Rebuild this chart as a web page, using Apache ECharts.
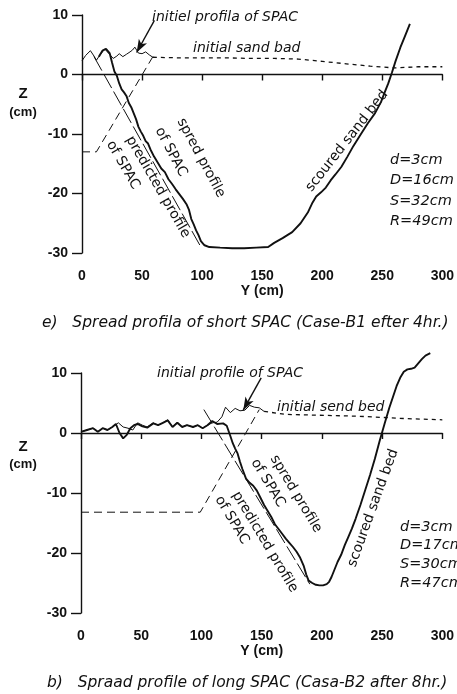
<!DOCTYPE html>
<html>
<head>
<meta charset="utf-8">
<script src="https://cdn.jsdelivr.net/npm/echarts@6/dist/echarts.min.js"></script>
<style>
  html, body { margin: 0; padding: 0; background: #fff; }
  #chart { width: 457px; height: 694px; }
</style>
</head>
<body>
<div id="chart"></div>
<script>
// ---- axis ticks ----
const xTicks = [0, 50, 100, 150, 200, 250, 300];
const zTicks = [-30, -20, -10, 0, 10];

// ---- panel e) short SPAC, Case-B1 after 4hr ----
const p1InitX = [0, 3, 7, 10, 12, 15, 19, 22, 26, 29, 31, 34, 37, 40, 42, 44, 47, 50, 53, 56, 59];
const p1InitZ = [2.3, 3.2, 4.0, 3.1, 2.4, 3.3, 4.3, 3.6, 2.7, 3.1, 3.5, 3.0, 3.4, 3.8, 4.1, 4.6, 3.6, 3.5, 3.8, 3.3, 2.9];
const p1BedX = [59, 80, 100, 120, 140, 160, 180, 200, 220, 240, 260, 280, 300];
const p1BedZ = [2.9, 2.8, 2.8, 2.8, 2.7, 2.7, 2.6, 2.2, 1.8, 1.4, 1.1, 1.3, 1.3];
const p1ScourX = [14, 17, 20, 23, 25, 27, 29, 31, 33, 35, 37, 39, 41, 43, 45, 47, 49, 51, 53, 55, 57, 60, 63, 66, 69, 72, 75, 78, 81, 84, 87, 89, 91, 93, 95, 97, 99, 102, 106, 115, 125, 135, 145, 155, 160, 167, 175, 182, 188, 192, 195, 199, 203, 207, 211, 216, 221, 226, 232, 238, 244, 249, 252, 255, 258, 261, 265, 269, 273];
const p1ScourZ = [3.0, 4.0, 4.3, 3.6, 2.0, 0.5, -0.2, -1.5, -2.5, -3.0, -3.6, -4.8, -5.5, -6.5, -7.5, -8.8, -9.6, -10.3, -11.2, -11.6, -12.6, -13.8, -14.8, -15.8, -16.4, -17.6, -18.4, -19.3, -20.1, -20.9, -21.8, -22.7, -24.3, -25.2, -26.2, -27.0, -28.0, -28.7, -29.0, -29.1, -29.2, -29.2, -29.1, -29.0, -28.3, -27.5, -26.5, -25.0, -23.2, -21.5, -20.5, -19.8, -19.0, -17.8, -16.8, -15.5, -13.8, -12.0, -10.1, -8.2, -6.5, -4.6, -3.0, -1.5, 0.3, 2.2, 4.5, 6.5, 8.5];
const p1PredX = [10, 99];
const p1PredZ = [3.0, -29.0];
const p1SpacX = [0, 12, 59];
const p1SpacZ = [-13.0, -13.0, 3.0];
const p1Params = ['d=3cm', 'D=16cm', 'S=32cm', 'R=49cm'];

// ---- panel b) long SPAC, Casa-B2 after 8hr ----
const p2InitX = [0, 5, 10, 14, 18, 22, 26, 31, 35, 39, 43, 47, 51, 55, 60, 64, 68, 72, 76, 80, 84, 88, 93, 97, 101, 105, 109, 113, 117, 120, 124, 128, 132, 136, 140, 144, 148, 152];
const p2InitZ = [0.2, 0.5, 0.8, 0.2, 0.8, 0.5, 1.0, 1.7, 1.0, 0.8, 0.5, 1.7, 1.3, 1.0, 1.7, 1.3, 1.7, 2.2, 1.0, 1.8, 1.0, 1.3, 1.0, 1.3, 0.8, 1.3, 1.7, 1.8, 2.7, 4.3, 3.4, 4.1, 3.7, 3.8, 4.6, 4.3, 4.2, 3.6];
const p2BedX = [152, 170, 190, 210, 230, 250, 270, 300];
const p2BedZ = [3.6, 3.1, 3.0, 2.9, 2.8, 2.6, 2.4, 2.2];
const p2ScourX = [0, 5, 10, 14, 18, 22, 26, 29, 32, 35, 38, 41, 44, 47, 51, 55, 60, 64, 68, 72, 76, 80, 84, 88, 93, 97, 101, 105, 109, 113, 118, 121, 124, 126, 128, 130, 132, 134, 137, 140, 143, 146, 149, 152, 155, 158, 161, 164, 167, 170, 173, 176, 179, 182, 185, 187, 189, 192, 195, 198, 201, 204, 206, 208, 210, 213, 216, 219, 222, 225, 228, 232, 236, 240, 244, 248, 252, 256, 259, 262, 265, 268, 271, 274, 277, 280, 283, 286, 290];
const p2ScourZ = [0.2, 0.5, 0.8, 0.2, 0.8, 0.5, 1.0, 1.5, 0.0, -0.9, -0.3, 0.8, 1.3, 1.5, 1.1, 0.9, 1.6, 1.3, 1.7, 2.1, 1.0, 1.7, 1.0, 1.3, 1.0, 1.3, 0.8, 1.3, 2.0, 1.5, 1.6, 1.2, -0.5, -1.7, -2.6, -3.4, -4.8, -6.0, -7.6, -8.3, -8.8, -9.6, -10.8, -12.0, -13.0, -14.0, -15.2, -16.0, -16.8, -17.6, -18.3, -19.0, -19.8, -20.8, -22.2, -23.6, -24.6, -25.0, -25.3, -25.4, -25.4, -25.2, -24.8, -24.0, -23.0, -21.5, -20.3, -18.7, -17.3, -15.9, -14.3, -12.0, -9.5, -7.0, -4.3, -1.3, 1.5, 4.2, 6.0, 7.8, 9.2, 10.2, 10.6, 10.7, 10.9, 11.6, 12.3, 12.9, 13.3];
const p2PredX = [102, 190];
const p2PredZ = [3.9, -25.2];
const p2SpacX = [0, 99, 148];
const p2SpacZ = [-13.2, -13.2, 3.9];
const p2Params = ['d=3cm', 'D=17cm', 'S=30cm', 'R=47cm'];

const zip = (xs, zs) => xs.map((x, i) => [x, zs[i]]);

const ink = '#111';
const tickFont = 'Liberation Sans';
const noteFont = 'DejaVu Sans';

function xAxisFor(gi) {
  return {
    type: 'value', gridIndex: gi, min: 0, max: 300, interval: 50,
    name: 'Y (cm)', nameLocation: 'middle', nameGap: 29,
    nameTextStyle: { color: ink, fontSize: 14, fontFamily: tickFont, fontWeight: 'bold' },
    axisLine: { lineStyle: { color: ink, width: 1.4 } },
    axisTick: { length: 6, lineStyle: { color: ink, width: 1.4 } },
    axisLabel: { color: ink, fontSize: 14, fontFamily: tickFont, fontWeight: 'bold', margin: 16,
      formatter: v => xTicks.includes(v) ? String(v) : '' },
    splitLine: { show: false }
  };
}
function yAxisFor(gi) {
  return {
    type: 'value', gridIndex: gi, min: -30, max: 10, interval: 10,
    axisLine: { show: true, onZero: false, lineStyle: { color: ink, width: 1.4 } },
    axisTick: { length: 10, lineStyle: { color: ink, width: 1.4 } },
    axisLabel: { color: ink, fontSize: 14, fontFamily: tickFont, fontWeight: 'bold', margin: 14,
      formatter: v => zTicks.includes(v) ? String(v) : '' },
    splitLine: { show: false }
  };
}

function line(gi, data, width, type) {
  return {
    type: 'line', xAxisIndex: gi, yAxisIndex: gi, data: data,
    symbol: 'none', silent: true, clip: false,
    lineStyle: { color: ink, width: width, type: type }
  };
}

function arrow(gi, from, to) {
  return {
    type: 'line', xAxisIndex: gi, yAxisIndex: gi, data: [], symbol: 'none',
    markLine: {
      silent: true, symbol: ['none', 'arrow'], symbolSize: [7, 13],
      label: { show: false },
      lineStyle: { color: ink, width: 1.4, type: 'solid' },
      data: [[{ coord: from }, { coord: to }]]
    }
  };
}

function note(text, x, y, deg, opts = {}) {
  return {
    type: 'text', x: x, y: y, rotation: (deg || 0) * Math.PI / 180,
    style: Object.assign({
      text: text, fill: ink, fontSize: 14, fontFamily: noteFont,
      align: 'center', verticalAlign: 'middle'
    }, opts)
  };
}

const topNote = { align: 'left', fontStyle: 'italic', fontSize: 14 };
const param = { align: 'left', fontStyle: 'italic', fontSize: 14.5 };
const caption = { align: 'left', fontStyle: 'italic', fontSize: 15.5 };
const zLab = { fontFamily: tickFont, fontSize: 15, fontWeight: 'bold' };
const cmLab = { fontFamily: tickFont, fontSize: 13, fontWeight: 'bold' };

const graphic = [
  // panel e
  note('Z', 23, 94, 0, zLab),
  note('(cm)', 23, 112, 0, cmLab),
  note('initiel profila of SPAC', 152, 17, 0, topNote),
  note('initial sand bad', 193, 48, 0, topNote),
  note('spred profile', 201, 158, -62),
  note('of SPAC', 171, 152, -62),
  note('predicted profile', 158, 187, -60),
  note('of SPAC', 123, 165, -60),
  note('scoured sand bed', 347, 141, 52),
  ...p1Params.map((t, i) => note(t, 390, 160 + i * 20.5, 0, param)),
  note('e)   Spread profila of short SPAC (Case-B1 efter 4hr.)', 42, 323, 0, caption),
  // panel b
  note('Z', 23, 447, 0, zLab),
  note('(cm)', 23, 464, 0, cmLab),
  note('initial profile of SPAC', 157, 373, 0, topNote),
  note('initial send bed', 277, 407, 0, topNote),
  note('spred profile', 296, 494, -59),
  note('of SPAC', 268, 483, -59),
  note('predicted profile', 265, 542, -59),
  note('of SPAC', 232, 520, -59),
  note('scoured sand bed', 373, 508, 70),
  ...p2Params.map((t, i) => note(t, 400, 527 + i * 18.7, 0, param)),
  note('b)   Spraad profile of long SPAC (Casa-B2 after 8hr.)', 47, 683, 0, caption)
];

const chart = echarts.init(document.getElementById('chart'));
chart.setOption({
  animation: false,
  backgroundColor: '#fff',
  grid: [
    { left: 82, top: 15, width: 363, height: 238 },
    { left: 81, top: 373, width: 363, height: 240 }
  ],
  xAxis: [xAxisFor(0), xAxisFor(1)],
  yAxis: [yAxisFor(0), yAxisFor(1)],
  series: [
    line(0, zip(p1InitX, p1InitZ), 1, 'solid'),
    line(0, zip(p1BedX, p1BedZ), 1.3, [4, 4]),
    line(0, zip(p1ScourX, p1ScourZ), 1.9, 'solid'),
    line(0, zip(p1PredX, p1PredZ), 1, [16, 4]),
    line(0, zip(p1SpacX, p1SpacZ), 1, [8, 5]),
    arrow(0, [60.3, 9.1], [45.5, 3.7]),
    line(1, zip(p2InitX, p2InitZ), 1, 'solid'),
    line(1, zip(p2BedX, p2BedZ), 1.3, [4, 4]),
    line(1, zip(p2ScourX, p2ScourZ), 1.9, 'solid'),
    line(1, zip(p2PredX, p2PredZ), 1, [16, 4]),
    line(1, zip(p2SpacX, p2SpacZ), 1, [8, 5]),
    arrow(1, [149.6, 9.2], [134.7, 3.8])
  ],
  graphic: graphic
});
</script>
</body>
</html>
